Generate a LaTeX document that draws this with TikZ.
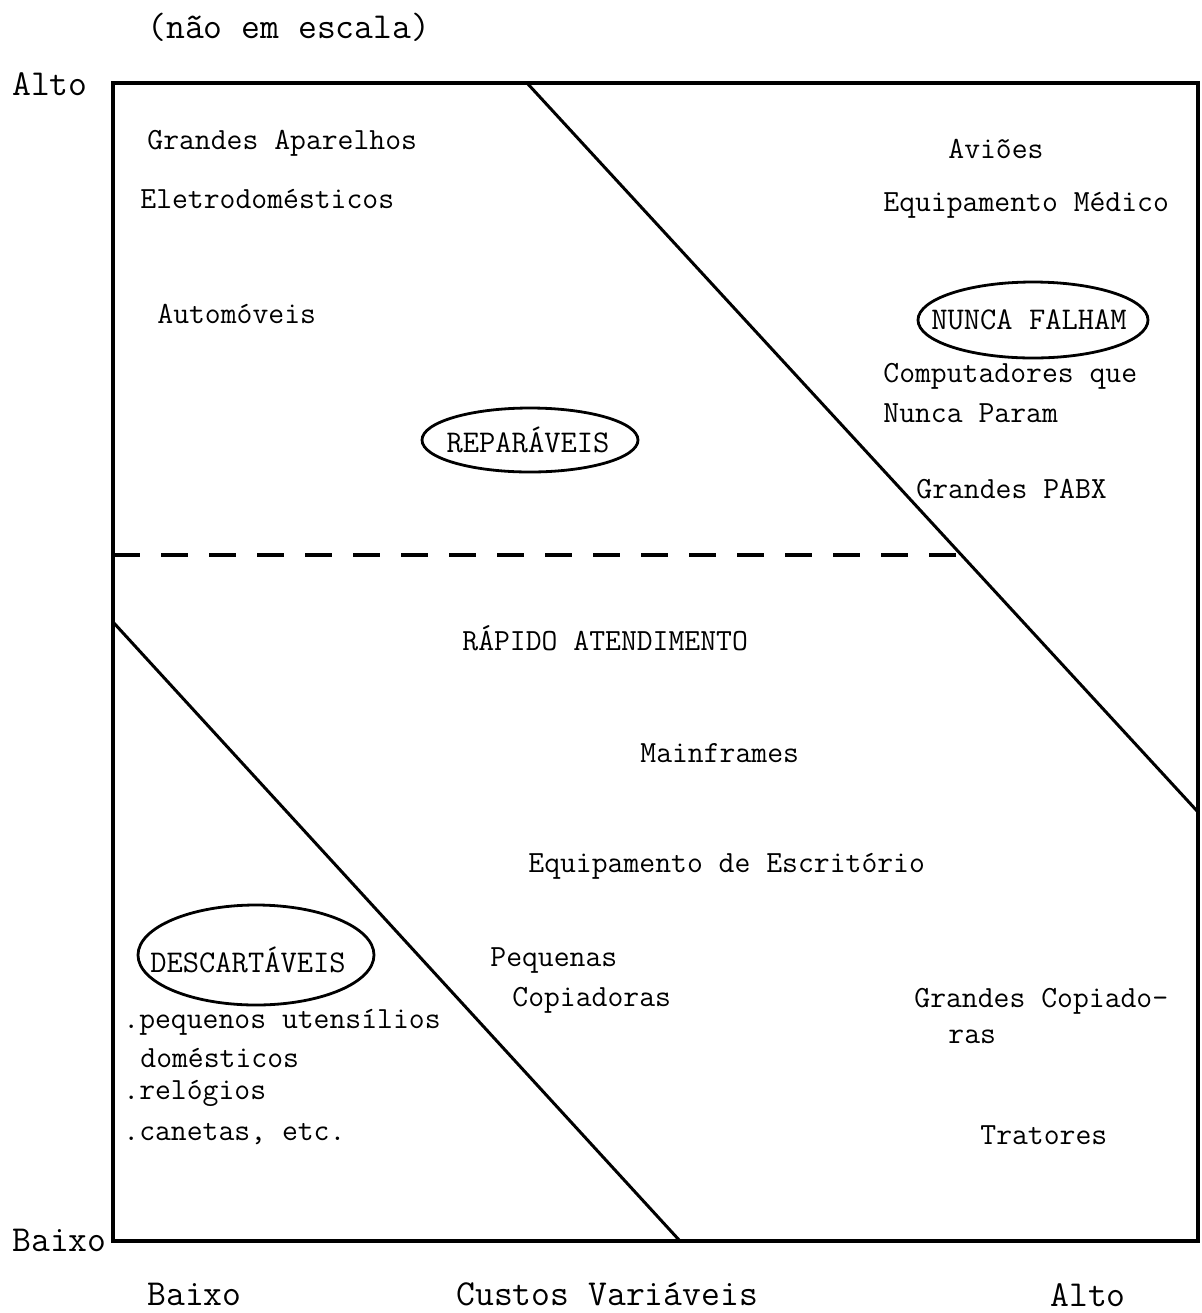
\documentclass[tikz,border=0pt]{standalone}
\begin{document}
\begin{tikzpicture}[x=0.5pt,y=-0.5pt,
  item/.style={font=\fontsize{15.4}{18}\selectfont\ttfamily, inner sep=0pt, anchor=west},
  axislbl/.style={font=\fontsize{18.3}{21}\selectfont\ttfamily, inner sep=0pt},
  tag/.style={font=\fontsize{15.8}{18}\selectfont\ttfamily, inner sep=0pt},
  ovalline/.style={line width=1.4pt},
  frame/.style={line width=1.7pt},
  divider/.style={line width=1.5pt},
  limit/.style={line width=2pt, dash pattern=on 13.5pt off 10.5pt}]
\useasboundingbox (0,0) rectangle (1202,1313);

% chart frame
\coordinate (tl) at (113,83);
\coordinate (tr) at (1198,83);
\coordinate (br) at (1198,1241);
\coordinate (bl) at (113,1241);
\draw[frame] (tl) -- (tr) -- (br) -- (bl) -- cycle;

% region boundaries
\coordinate (u1) at (527,83);
\coordinate (u2) at (1198,812);
\draw[divider] (u1) -- (u2);
\coordinate (l1) at (113,622);
\coordinate (l2) at (680,1241);
\draw[divider] (l1) -- (l2);
\coordinate (d1) at (113,555);
\coordinate (d2) at (962,555);
\draw[limit] (d1) -- (d2);

% heading and axes
\node[axislbl, anchor=west] (note) at (147,27) {(não em escala)};
\node[axislbl, anchor=east] (yhi) at (88,84) {Alto};
\node[axislbl, anchor=east] (ylo) at (107,1240) {Baixo};
\node[axislbl, anchor=west] (xlo) at (147,1294) {Baixo};
\node[axislbl, anchor=west] (xmid) at (456,1294) {Custos Variáveis};
\node[axislbl, anchor=west] (xhi) at (1050,1295) {Alto};

% repairable region
\node[item] (ga) at (147,143) {Grandes Aparelhos};
\node[item] (ed) at (140,199) {Eletrodomésticos};
\node[item] (au) at (157,314) {Automóveis};
\coordinate (repc) at (530,440);
\node[tag] (rep) at (528,440) {REPARÁVEIS};
\draw[ovalline] (repc) ellipse [x radius=108, y radius=32];

% never-fail region
\node[item] (av) at (948,149) {Aviões};
\node[item] (em) at (883,205) {Equipamento Médico};
\coordinate (nfc) at (1033,320);
\node[tag] (nf) at (1029,320) {NUNCA FALHAM};
\draw[ovalline] (nfc) ellipse [x radius=115, y radius=38];
\node[item] (cq) at (883,376) {Computadores que};
\node[item] (np) at (883,413) {Nunca Param};
\node[item] (pabx) at (916,489) {Grandes PABX};

% fast-service region
\node[item] (ra) at (462,638) {RÁPIDO ATENDIMENTO};
\node[item] (mf) at (640,753) {Mainframes};
\node[item] (ee) at (528,866) {Equipamento de Escritório};
\node[item] (pq) at (490,960) {Pequenas};
\node[item] (cp) at (512,1000) {Copiadoras};
\node[item] (gc) at (914,1001) {Grandes Copiado-};
\node[item] (ras) at (948,1037) {ras};
\node[item] (tr2) at (980,1135) {Tratores};

% disposable region
\coordinate (descc) at (256,955);
\node[tag] (desc) at (248,960) {DESCARTÁVEIS};
\draw[ovalline] (descc) ellipse [x radius=118, y radius=50];
\node[item] (pu) at (123,1022) {.pequenos utensílios};
\node[item] (dom) at (140,1058) {domésticos};
\node[item] (rel) at (123,1093) {.relógios};
\node[item] (can) at (123,1134) {.canetas, etc.};
\end{tikzpicture}
\end{document}
